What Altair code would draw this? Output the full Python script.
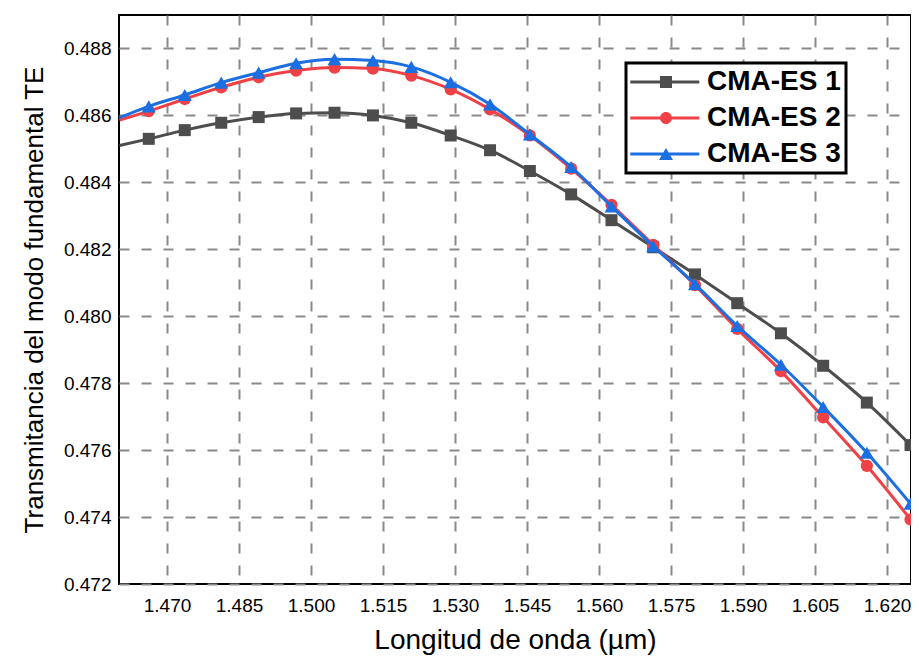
import altair as alt
import pandas as pd

series_names = ["CMA-ES 1", "CMA-ES 2", "CMA-ES 3"]
wavelength = [1.4662, 1.4737, 1.4813, 1.4891, 1.4969, 1.5049, 1.5129, 1.5209,
              1.5291, 1.5373, 1.5456, 1.5542, 1.5626, 1.5713, 1.5800, 1.5888,
              1.5979, 1.6067, 1.6158, 1.6249]
cma_es_1 = [0.48530, 0.48556, 0.48578, 0.48595, 0.48606, 0.48608, 0.48600, 0.48578,
            0.48540, 0.48496, 0.48434, 0.48364, 0.48287, 0.48206, 0.48125, 0.48039,
            0.47949, 0.47852, 0.47742, 0.47615]
cma_es_2 = [0.48613, 0.48649, 0.48684, 0.48714, 0.48734, 0.48743, 0.48740, 0.48719,
            0.48678, 0.48618, 0.48540, 0.48441, 0.48333, 0.48213, 0.48093, 0.47962,
            0.47836, 0.47698, 0.47553, 0.47393]
cma_es_3 = [0.48627, 0.48661, 0.48698, 0.48728, 0.48756, 0.48768, 0.48764, 0.48745,
            0.48699, 0.48633, 0.48543, 0.48446, 0.48328, 0.48209, 0.48096, 0.47971,
            0.47855, 0.47729, 0.47592, 0.47440]
# line start at the left frame edge (no marker there)
edge_wavelength = 1.4601
edge_values = [0.48510, 0.48586, 0.48593]

x_ticks = [1.470, 1.485, 1.500, 1.515, 1.530, 1.545, 1.560, 1.575, 1.590, 1.605, 1.620]
y_ticks = [0.472, 0.474, 0.476, 0.478, 0.480, 0.482, 0.484, 0.486, 0.488]
x_title = "Longitud de onda (µm)"
y_title = "Transmitancia del modo fundamental TE"

colors = ["#4d4d4d", "#ef4146", "#1c6fe0"]
shapes = ["square", "circle", "triangle-up"]
sizes = [144, 150, 196]
# legend symbols: a line segment with the marker in its middle (1 unit = 8 px)
legend_paths = [
    "M-1.84,-0.19H1.95V0.19H-1.84Z M3.3,-0.19H6.79V0.19H3.3Z M1.875,-0.75H3.375V0.75H1.875Z",
    "M-1.84,-0.19H1.95V0.19H-1.84Z M3.3,-0.19H6.79V0.19H3.3Z M3.375,0A0.75,0.75,0,1,1,1.875,0A0.75,0.75,0,1,1,3.375,0Z",
    "M-1.84,-0.19H2.3V0.19H-1.84Z M2.95,-0.19H6.79V0.19H2.95Z M2.625,-0.75L3.5,0.75L1.75,0.75Z",
]

rows = []
for name, vals, ev in zip(series_names, [cma_es_1, cma_es_2, cma_es_3], edge_values):
    rows.append({"serie": name, "wl": edge_wavelength, "t": ev, "marker": False})
    for w, v in zip(wavelength, vals):
        rows.append({"serie": name, "wl": w, "t": v, "marker": True})
df = pd.DataFrame(rows)

FONT = "Liberation Sans"

x_enc = alt.X(
    "wl:Q",
    scale=alt.Scale(domain=[1.46, 1.625], nice=False, zero=False),
    axis=alt.Axis(values=x_ticks, format=".3f", title=x_title,
                  labelFontSize=19, titleFontSize=28, labelPadding=12, titlePadding=11),
)
y_enc = alt.Y(
    "t:Q",
    scale=alt.Scale(domain=[0.472, 0.489], nice=False, zero=False),
    axis=alt.Axis(values=y_ticks, format=".3f", title=y_title,
                  labelFontSize=19, labelPadding=8, titleFontSize=26, titlePadding=16),
)

base = alt.Chart(df)
layers = []
for name, col, shp, sz in zip(series_names, colors, shapes, sizes):
    sub = base.transform_filter(alt.datum.serie == name)
    layers.append(
        sub.mark_line(strokeWidth=3, interpolate="monotone", color=col).encode(
            x=x_enc, y=y_enc, order="wl:Q")
    )
    layers.append(
        sub.transform_filter(alt.datum.marker == True)
        .mark_point(shape=shp, filled=True, size=sz, opacity=1, color=col)
        .encode(x=x_enc, y=y_enc)
    )

legend_def = alt.Legend(
    title=None, orient="none", legendX=507, legendY=48,
    symbolSize=256, symbolStrokeWidth=0, symbolOpacity=1,
    labelFont=FONT, labelFontSize=28, labelFontWeight="bold", labelColor="black",
    strokeColor="black", fillColor="white", padding=5, rowPadding=8,
    labelOffset=48,
)
legend_layer = base.transform_filter("datum.t > 1").mark_point(filled=True).encode(
    color=alt.Color("serie:N", scale=alt.Scale(domain=series_names, range=colors),
                    legend=legend_def),
    shape=alt.Shape("serie:N", scale=alt.Scale(domain=series_names, range=legend_paths),
                    legend=legend_def),
)
layers.append(legend_layer)

chart = alt.layer(*layers).properties(
    width=792, height=569,
    autosize=alt.AutoSizeParams(type="none"),
    padding={"left": 111, "top": 7, "right": 0, "bottom": 74},
).configure_view(
    stroke="black", strokeWidth=2
).configure_axis(
    labelFont=FONT, titleFont=FONT, labelColor="black", titleColor="black",
    titleFontWeight="normal", grid=True, gridColor="#8a8a8a", gridDash=[10, 12],
    gridWidth=2, gridOpacity=1, ticks=False, domain=False,
).configure_legend(
    strokeWidth=3
)

chart.save("out.html", embed_options={"renderer": "svg", "actions": False})
